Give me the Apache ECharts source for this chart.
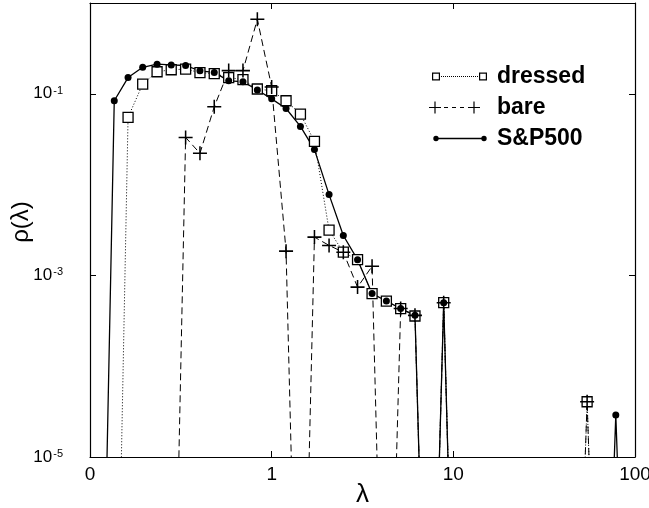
<!DOCTYPE html>
<html>
<head>
<meta charset="utf-8">
<script src="https://cdn.jsdelivr.net/npm/echarts@6/dist/echarts.min.js"></script>
<style>
  html, body { margin: 0; padding: 0; background: #fff; }
  #chart { width: 649px; height: 508px; }
</style>
</head>
<body>
<div id="chart"></div>
<script>
// bins are geometric (ratio ~1.2); empty bins are kept as 1e-9 so the line falls off the bottom
var lambdaSP = [0.113, 0.136, 0.162, 0.195, 0.234, 0.280, 0.336, 0.403, 0.483, 0.580, 0.695, 0.834, 1.00, 1.20, 1.44, 1.72, 2.07, 2.48, 2.97, 3.57, 4.28, 5.13, 6.15, 7.38, 8.85, 10.6, 65.3, 78.4, 94.0];
var rhoSP = [1e-9, 0.0838, 0.151, 0.196, 0.212, 0.208, 0.205, 0.179, 0.172, 0.139, 0.136, 0.110, 0.088, 0.0689, 0.0437, 0.0243, 0.00776, 0.00275, 0.00149, 0.00063, 0.000522, 0.000431, 0.000363, 1e-9, 0.000501, 1e-9, 1e-9, 2.9e-5, 1e-9];

var lambdaDressed = [0.136, 0.162, 0.195, 0.234, 0.280, 0.336, 0.403, 0.483, 0.580, 0.695, 0.834, 1.00, 1.20, 1.44, 1.72, 2.07, 2.48, 2.97, 3.57, 4.28, 5.13, 6.15, 7.38, 8.85, 10.6, 45.4, 54.5, 65.3];
var rhoDressed = [1e-9, 0.0550, 0.128, 0.175, 0.184, 0.187, 0.171, 0.167, 0.151, 0.143, 0.113, 0.108, 0.0838, 0.0598, 0.0299, 0.00315, 0.00180, 0.00149, 0.00063, 0.000522, 0.000431, 0.000357, 1e-9, 0.000501, 1e-9, 1e-9, 4.06e-5, 1e-9];

var lambdaBare = [0.280, 0.336, 0.403, 0.483, 0.580, 0.695, 0.834, 1.00, 1.20, 1.44, 1.72, 2.07, 2.48, 2.97, 3.57, 4.28, 5.13, 6.15, 7.38, 8.85, 10.6, 45.4, 54.5, 65.3];
var rhoBare = [1e-9, 0.0331, 0.0221, 0.0720, 0.18, 0.18, 0.662, 0.119, 0.00185, 1e-9, 0.00264, 0.00214, 0.00180, 0.000743, 0.00126, 1e-9, 0.000431, 0.000363, 1e-9, 0.000501, 1e-9, 1e-9, 4.06e-5, 1e-9];

var xTickLabels = {0.1: '0', 1: '1', 10: '10', 100: '100'};
var yLabelExps = [-5, -3, -1];

function pairs(xs, ys) {
  return xs.map(function (x, i) { return [x, ys[i]]; });
}

var FONT = 'Liberation Sans, Arial, Helvetica, sans-serif';
var plusPath = 'path://M0,4.45H10V5.55H0Z M4.45,0H5.55V10H4.45Z';

// legend samples, drawn in a 63x12 box (corner moveTo's fix the box size)
var box = 'M0,0 M63,12 ';
function sq(x) {
  return 'M' + x + ',2H' + (x + 8) + 'V10H' + x + 'Z M' + (x + 1.2) + ',3.2V8.8H' + (x + 6.8) + 'V3.2Z ';
}
function dots(a, b) {
  var s = '';
  for (var x = a + 1; x < b - 1; x += 2) s += 'M' + x + ',5.5H' + (x + 1) + 'V6.5H' + x + 'Z ';
  return s;
}
function plus(cx) {
  return 'M' + (cx - 6) + ',5.4H' + (cx + 6) + 'V6.6H' + (cx - 6) + 'Z M' + (cx - 0.6) + ',0H' + (cx + 0.6) + 'V12H' + (cx - 0.6) + 'Z ';
}
function dot(cx, r) {
  return 'M' + (cx - r) + ',6A' + r + ',' + r + ' 0 1,1 ' + (cx + r) + ',6A' + r + ',' + r + ' 0 1,1 ' + (cx - r) + ',6Z ';
}
var iconDressed = 'path://' + box + sq(3) + dots(11, 50) + sq(50);
var iconBare = 'path://' + box + plus(6) + 'M15,5.4H19V6.6H15Z M23,5.4H27V6.6H23Z M31,5.4H35V6.6H31Z ' + plus(45);
var iconSP = 'path://' + box + dot(7, 2.7) + 'M7,5.35H55V6.65H7Z ' + dot(55, 2.7);

var chart = echarts.init(document.getElementById('chart'), null, {renderer: 'canvas'});

var axisLineStyle = {color: '#000', width: 1.2};

chart.setOption({
  animation: false,
  backgroundColor: '#fff',
  grid: {left: 90, right: 14, top: 3, bottom: 51, outerBoundsMode: 'none', containLabel: false},
  legend: {
    orient: 'vertical',
    left: 424,
    top: 60,
    itemWidth: 63,
    itemHeight: 12,
    itemGap: 8,
    symbolKeepAspect: false,
    selectedMode: false,
    itemStyle: {color: '#000', borderWidth: 0},
    textStyle: {fontFamily: FONT, fontSize: 23, fontWeight: 'bold', color: '#000'},
    data: [
      {name: 'dressed', icon: iconDressed},
      {name: 'bare', icon: iconBare},
      {name: 'S&P500', icon: iconSP}
    ]
  },
  xAxis: [{
    type: 'log',
    logBase: 10,
    min: 0.1,
    max: 100,
    name: 'λ',
    nameLocation: 'middle',
    nameGap: 25,
    nameMoveOverlap: false,
    nameTextStyle: {fontFamily: FONT, fontSize: 26, color: '#000'},
    axisLine: {lineStyle: axisLineStyle},
    axisTick: {inside: true, length: 6, lineStyle: {color: '#000'}},
    axisLabel: {
      fontFamily: FONT, fontSize: 19, color: '#000', margin: 8,
      formatter: function (v) { return xTickLabels[v] !== undefined ? xTickLabels[v] : ''; }
    },
    splitLine: {show: false},
    minorTick: {show: false}
  }, {
    type: 'log',
    logBase: 10,
    min: 0.1,
    max: 100,
    position: 'top',
    axisLine: {lineStyle: axisLineStyle},
    axisTick: {inside: true, length: 6, lineStyle: {color: '#000'}},
    axisLabel: {show: false},
    splitLine: {show: false}
  }],
  yAxis: [{
    type: 'log',
    logBase: 10,
    min: 1e-5,
    max: 1,
    interval: 2,
    name: 'ρ(λ)',
    nameLocation: 'middle',
    nameRotate: 90,
    nameGap: 57,
    nameMoveOverlap: false,
    nameTextStyle: {fontFamily: FONT, fontSize: 24, color: '#000', padding: [0, 0, 0, 16]},
    axisLine: {lineStyle: axisLineStyle},
    axisTick: {inside: true, length: 6, lineStyle: {color: '#000'}},
    axisLabel: {
      margin: 27,
      formatter: function (v) {
        var e = Math.round(Math.log(v) / Math.LN10);
        if (yLabelExps.indexOf(e) < 0) return '';
        return '{b|10}{s|' + e + '}';
      },
      rich: {
        b: {fontFamily: FONT, fontSize: 17, color: '#000'},
        s: {fontFamily: FONT, fontSize: 11, color: '#000', verticalAlign: 'top', padding: [0, 0, 6, 1]}
      }
    },
    splitLine: {show: false}
  }, {
    type: 'log',
    logBase: 10,
    min: 1e-5,
    max: 1,
    interval: 2,
    position: 'right',
    axisLine: {lineStyle: axisLineStyle},
    axisTick: {inside: true, length: 6, lineStyle: {color: '#000'}},
    axisLabel: {show: false},
    splitLine: {show: false}
  }],
  series: [{
    name: 'dressed',
    type: 'line',
    data: pairs(lambdaDressed, rhoDressed),
    symbol: 'rect',
    symbolSize: 10,
    clip: true,
    silent: true,
    itemStyle: {color: '#fff', borderColor: '#000', borderWidth: 1.3},
    lineStyle: {color: '#000', width: 1, type: [1, 2]}
  }, {
    name: 'bare',
    type: 'line',
    data: pairs(lambdaBare, rhoBare),
    symbol: plusPath,
    symbolSize: 14,
    clip: true,
    silent: true,
    itemStyle: {color: '#000'},
    lineStyle: {color: '#000', width: 1, type: [7, 4]}
  }, {
    name: 'S&P500',
    type: 'line',
    data: pairs(lambdaSP, rhoSP),
    symbol: 'circle',
    symbolSize: 7,
    clip: true,
    silent: true,
    itemStyle: {color: '#000'},
    lineStyle: {color: '#000', width: 1.3}
  }]
});
</script>
</body>
</html>
